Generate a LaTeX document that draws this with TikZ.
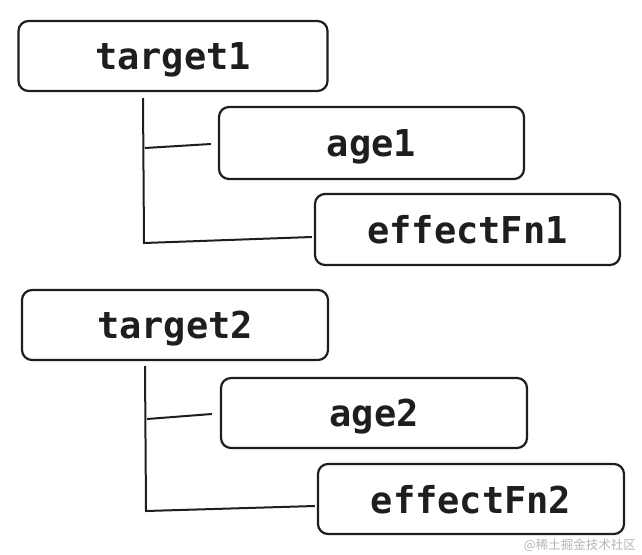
\documentclass[tikz,border=0pt]{standalone}
\usepackage{fontspec}
\setmonofont{DejaVu Sans Mono}
\newfontfamily\cjk{Noto Sans CJK SC}
\definecolor{ink}{HTML}{1E1E1E}
\definecolor{wm}{HTML}{B4B4B4}
\begin{document}
\begin{tikzpicture}[x=1pt,y=-1pt,
  box/.style={draw=ink, line width=2.2pt, rounded corners=10pt, fill=white,
    text=ink, font=\ttfamily\bfseries\fontsize{37}{40}\selectfont, inner sep=0pt,
    text depth=0pt},
  link/.style={draw=ink, line width=2pt, line join=miter}]
\useasboundingbox (0,0) rectangle (642,554);
% group 1
\node[box, minimum width=309pt, minimum height=70pt] (t1) at (173,56) {target1};
\node[box, minimum width=305pt, minimum height=72pt] (a1) at (371.5,143) {age1};
\node[box, minimum width=305pt, minimum height=71pt] (e1) at (467.5,229.5) {effectFn1};
\coordinate (v1top) at (143,98);
\coordinate (v1bot) at (144,243);
\coordinate (b1s) at (145,148);
\draw[link] (v1top) -- (v1bot) -- ([xshift=-2pt,yshift=-7.5pt]e1.west);
\draw[link] (b1s) -- ([xshift=-7pt,yshift=-1pt]a1.west);
% group 2
\node[box, minimum width=306pt, minimum height=70pt] (t2) at (175,325) {target2};
\node[box, minimum width=306pt, minimum height=70pt] (a2) at (374,413) {age2};
\node[box, minimum width=306pt, minimum height=70pt] (e2) at (471,499) {effectFn2};
\coordinate (v2top) at (145,366);
\coordinate (v2bot) at (146,511);
\coordinate (b2s) at (147,419);
\draw[link] (v2top) -- (v2bot) -- ([xshift=-2pt,yshift=-7pt]e2.west);
\draw[link] (b2s) -- ([xshift=-8pt,yshift=-1pt]a2.west);
% watermark
\node[text=wm, font=\cjk\fontsize{12.5}{14}\selectfont, anchor=east, inner sep=0pt] (wm) at (636,545) {@稀土掘金技术社区};
\end{tikzpicture}
\end{document}
